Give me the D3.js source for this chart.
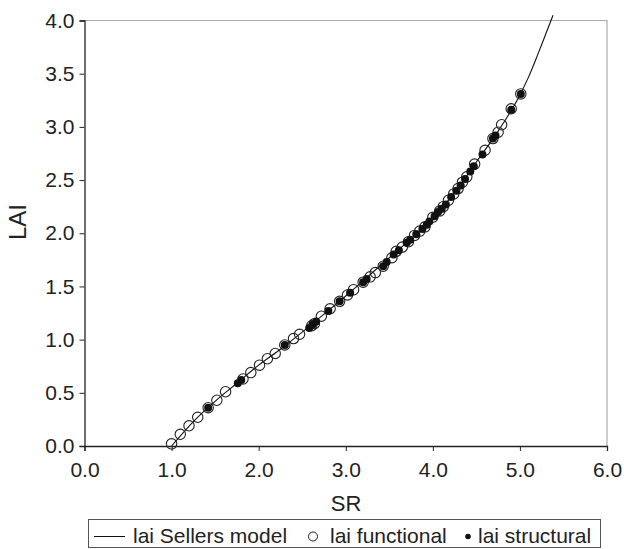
<!DOCTYPE html>
<html>
<head>
<meta charset="utf-8">
<script src="https://cdn.jsdelivr.net/npm/d3@7.9.0/dist/d3.min.js"></script>
<style>
  body { margin: 0; background: #fff; }
  svg { display: block; font-family: "Liberation Sans", Arial, sans-serif; }
</style>
</head>
<body>
<svg id="chart" width="624" height="549"></svg>
<script>
// Sellers model curve
const modelSR  = [1.0, 1.25, 1.5, 1.75, 2.0, 2.25, 2.5, 2.75, 3.0, 3.25, 3.5, 3.75, 4.0, 4.25, 4.5, 4.75, 5.0, 5.1, 5.2, 5.3, 5.38];
const modelLAI = [0.0, 0.23, 0.42, 0.59, 0.76, 0.91, 1.07, 1.24, 1.41, 1.59, 1.77, 1.95, 2.15, 2.38, 2.67, 2.96, 3.30, 3.47, 3.67, 3.88, 4.05];

// functional LAI (open circles)
const functionalSR  = [1.00, 1.10, 1.20, 1.30, 1.42, 1.52, 1.62, 1.82, 1.91, 2.01, 2.10, 2.19, 2.30, 2.40, 2.47, 2.61, 2.64, 2.72, 2.82, 2.93, 3.02, 3.09, 3.20, 3.28, 3.34, 3.43, 3.53, 3.58, 3.65, 3.72, 3.79, 3.85, 3.91, 4.00, 4.08, 4.12, 4.18, 4.24, 4.29, 4.34, 4.39, 4.48, 4.60, 4.69, 4.75, 4.79, 4.90, 5.01];
const functionalLAI = [0.02, 0.11, 0.19, 0.27, 0.36, 0.43, 0.51, 0.63, 0.69, 0.76, 0.82, 0.87, 0.95, 1.01, 1.05, 1.13, 1.15, 1.22, 1.29, 1.36, 1.42, 1.47, 1.54, 1.59, 1.63, 1.69, 1.77, 1.83, 1.87, 1.92, 1.98, 2.02, 2.06, 2.15, 2.21, 2.25, 2.31, 2.37, 2.42, 2.48, 2.53, 2.65, 2.78, 2.89, 2.95, 3.02, 3.17, 3.31];

// structural LAI (filled dots)
const structuralSR  = [1.42, 1.76, 1.80, 2.30, 2.58, 2.62, 2.66, 2.80, 2.93, 3.05, 3.20, 3.24, 3.43, 3.47, 3.55, 3.61, 3.70, 3.74, 3.81, 3.88, 3.93, 3.96, 4.02, 4.06, 4.10, 4.15, 4.21, 4.27, 4.32, 4.37, 4.43, 4.47, 4.57, 4.69, 4.72, 4.90, 5.01];
const structuralLAI = [0.36, 0.59, 0.62, 0.95, 1.11, 1.14, 1.17, 1.27, 1.36, 1.44, 1.54, 1.57, 1.69, 1.73, 1.80, 1.84, 1.91, 1.94, 1.99, 2.04, 2.08, 2.11, 2.16, 2.20, 2.23, 2.27, 2.34, 2.40, 2.45, 2.51, 2.58, 2.63, 2.74, 2.89, 2.92, 3.16, 3.31];

const xTicks = [0, 1, 2, 3, 4, 5, 6];
const yTicks = [0, 0.5, 1, 1.5, 2, 2.5, 3, 3.5, 4];

const svg = d3.select("#chart");
const ink = "#222";

const x = d3.scaleLinear().domain([0, 6]).range([84.5, 607]);
const y = d3.scaleLinear().domain([0, 4]).range([446, 20.5]);

// plot frame: grey top/right
svg.append("path")
  .attr("d", `M${x(0)},${y(4)}H${x(6)}V${y(0)}`)
  .attr("fill", "none")
  .attr("stroke", "#aaa")
  .attr("stroke-width", 1.2);

// axes
const xAxis = svg.append("g")
  .attr("transform", `translate(0,${y(0)})`)
  .call(d3.axisBottom(x).tickValues(xTicks).tickFormat(d3.format(".1f")).tickSizeOuter(0).tickSize(5).tickPadding(11));
const yAxis = svg.append("g")
  .attr("transform", `translate(${x(0)},0)`)
  .call(d3.axisLeft(y).tickValues(yTicks).tickFormat(d3.format(".1f")).tickSizeOuter(0).tickSize(5).tickPadding(5));

[xAxis, yAxis].forEach(g => {
  g.select(".domain").attr("stroke", ink).attr("stroke-width", 1.3);
  g.selectAll(".tick line").attr("stroke", ink).attr("stroke-width", 1);
  g.selectAll(".tick text")
    .attr("fill", ink)
    .style("font-size", "21px")
    .style("font-family", "'Liberation Sans', Arial, sans-serif");
});

// axis titles
svg.append("text")
  .attr("x", 346).attr("y", 511)
  .attr("text-anchor", "middle")
  .attr("fill", ink)
  .style("font-size", "22px")
  .text("SR");
svg.append("text")
  .attr("transform", `translate(26,222) rotate(-90)`)
  .attr("text-anchor", "middle")
  .attr("fill", ink)
  .style("font-size", "24px")
  .text("LAI");

// model line
const model = modelSR.map((d, i) => ({ sr: d, lai: modelLAI[i] }));
svg.append("path")
  .datum(model)
  .attr("fill", "none")
  .attr("stroke", "#111")
  .attr("stroke-width", 1.1)
  .attr("d", d3.line().x(d => x(d.sr)).y(d => y(d.lai)).curve(d3.curveMonotoneX));

// functional points
const functional = functionalSR.map((d, i) => ({ sr: d, lai: functionalLAI[i] }));
svg.append("g")
  .selectAll("circle")
  .data(functional)
  .join("circle")
  .attr("cx", d => x(d.sr))
  .attr("cy", d => y(d.lai))
  .attr("r", 5.2)
  .attr("fill", "none")
  .attr("stroke", "#222")
  .attr("stroke-width", 1.1);

// structural points
const structural = structuralSR.map((d, i) => ({ sr: d, lai: structuralLAI[i] }));
svg.append("g")
  .selectAll("circle")
  .data(structural)
  .join("circle")
  .attr("cx", d => x(d.sr))
  .attr("cy", d => y(d.lai))
  .attr("r", 4)
  .attr("fill", "#111");

// legend
const legend = svg.append("g");
legend.append("rect")
  .attr("x", 88.5).attr("y", 519.5)
  .attr("width", 512).attr("height", 28)
  .attr("fill", "none")
  .attr("stroke", "#555")
  .attr("stroke-width", 1);
legend.append("line")
  .attr("x1", 94).attr("x2", 125)
  .attr("y1", 536.5).attr("y2", 536.5)
  .attr("stroke", "#111").attr("stroke-width", 1);
legend.append("circle")
  .attr("cx", 313).attr("cy", 536.5).attr("r", 4.5)
  .attr("fill", "none").attr("stroke", "#222");
legend.append("circle")
  .attr("cx", 468).attr("cy", 536.5).attr("r", 2.8)
  .attr("fill", "#111");
const legendItems = [["lai Sellers model", 133], ["lai functional", 330], ["lai structural", 478]];
legend.selectAll("text")
  .data(legendItems)
  .join("text")
  .attr("x", d => d[1]).attr("y", 543)
  .attr("fill", ink)
  .style("font-size", "21px")
  .text(d => d[0]);
</script>
</body>
</html>
